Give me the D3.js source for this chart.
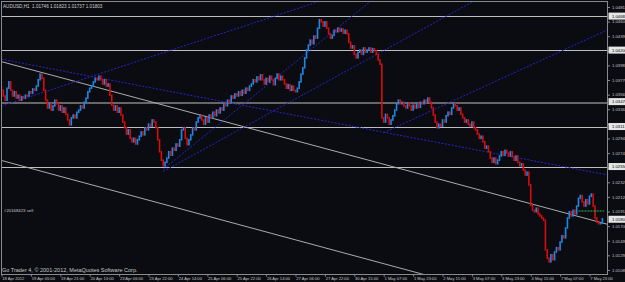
<!DOCTYPE html>
<html>
<head>
<meta charset="utf-8">
<script src="https://cdn.jsdelivr.net/npm/d3@7"></script>
<style>
  html, body { margin: 0; padding: 0; background: #0a0c11; overflow: hidden; }
</style>
</head>
<body>
<div id="chart"></div>
<script>
// ---- data ----
const symbol = "AUDUSD,H1";
const headerOHLC = [1.01746, 1.01823, 1.01737, 1.01803];
const copyright = "Go Trader 4, \u00a9 2001-2012, MetaQuotes Software Corp.";

// one label every 16 hourly bars
const dateLabels = ["18 Apr 2012", "19 Apr 05:00", "19 Apr 21:00", "20 Apr 13:00", "23 Apr 06:00",
  "23 Apr 22:00", "24 Apr 14:00", "25 Apr 06:00", "25 Apr 22:00", "26 Apr 14:00", "27 Apr 06:00",
  "27 Apr 22:00", "30 Apr 15:00", "1 May 07:00", "1 May 23:00", "2 May 15:00", "3 May 07:00",
  "3 May 23:00", "4 May 15:00", "7 May 07:00", "7 May 23:00"];
const barsPerLabel = 16;

const priceTicks = [1.04811, 1.04604, 1.04397, 1.04190, 1.03983, 1.03776, 1.03569, 1.03362,
  1.03155, 1.02948, 1.02741, 1.02534, 1.02327, 1.02120, 1.01913, 1.01706, 1.01499, 1.01292, 1.01085];

// horizontal lines (price levels)
const levels = [1.04682, 1.04200, 1.03470, 1.03117, 1.02550];
const supportLevel = 1.03470;

// hourly closes, open of each bar = previous close
const firstOpen = 1.0368;
const week1 = [1.0363, 1.0355, 1.0349, 1.0366, 1.0375, 1.0363, 1.0355, 1.0361, 1.0352, 1.0356, 1.0349, 1.0354,
  1.0352, 1.0356, 1.0355, 1.0361, 1.0359, 1.0365, 1.0363, 1.0369,
  1.0378, 1.0386, 1.0380,
  1.0363, 1.0349, 1.0338, 1.0344,
  1.0335, 1.0341, 1.0349, 1.0344, 1.0335, 1.0341, 1.0332, 1.0338, 1.0329,
  1.0321, 1.0314, 1.0324,
  1.0328, 1.0324, 1.0332, 1.0335, 1.0341, 1.0338, 1.0346, 1.0352,
  1.0361, 1.0366, 1.0369,
  1.0375, 1.0380, 1.0378, 1.0383,
  1.0378, 1.0372, 1.0378, 1.0369];
const week2 = [1.0372, 1.0356, 1.0342, 1.0335, 1.0341,
  1.0332, 1.0338, 1.0328,
  1.0318, 1.0310, 1.0301, 1.0307, 1.0295,
  1.0290, 1.0295, 1.0287, 1.0293, 1.0298,
  1.0304, 1.0300, 1.0310, 1.0307,
  1.0315, 1.0312, 1.0321, 1.0318, 1.0310,
  1.0293, 1.0276, 1.0264, 1.0256, 1.0261, 1.0267,
  1.0276, 1.0271, 1.0281, 1.0278, 1.0287, 1.0284, 1.0293,
  1.0307, 1.0310, 1.0295, 1.0286,
  1.0293, 1.0300, 1.0310, 1.0307, 1.0318, 1.0324, 1.0328,
  1.0321, 1.0315, 1.0324, 1.0318, 1.0328, 1.0324, 1.0332, 1.0327,
  1.0335, 1.0331, 1.0338, 1.0335, 1.0344, 1.0341, 1.0349, 1.0346, 1.0355,
  1.0352, 1.0358, 1.0355, 1.0361, 1.0356, 1.0363, 1.0359, 1.0366, 1.0363, 1.0369,
  1.0372, 1.0378, 1.0375, 1.0382, 1.0378, 1.0385,
  1.0378, 1.0372, 1.0380, 1.0375, 1.0383, 1.0378, 1.0371, 1.0380, 1.0386, 1.0378, 1.0383,
  1.0378, 1.0372, 1.0366, 1.0371, 1.0363, 1.0369, 1.0363, 1.0361, 1.0366,
  1.0375, 1.0386, 1.0395,
  1.0409, 1.0420, 1.0427,
  1.0434, 1.0429, 1.0440, 1.0437,
  1.0451, 1.0463, 1.0460,
  1.0454, 1.0460];
const week3 = [1.0451, 1.0443, 1.0437, 1.0441,
  1.0448, 1.0446, 1.0451, 1.0447, 1.0450, 1.0444, 1.0448, 1.0443,
  1.0431, 1.0423, 1.0426,
  1.0414, 1.0409, 1.0417,
  1.0420, 1.0414, 1.0423, 1.0417, 1.0420,
  1.0423, 1.0417, 1.0422, 1.0419, 1.0414,
  1.0406, 1.0400,
  1.0324,
  1.0318, 1.0329, 1.0324, 1.0315, 1.0321, 1.0327,
  1.0335, 1.0344, 1.0349, 1.0344, 1.0346,
  1.0341, 1.0338, 1.0345, 1.0341, 1.0335, 1.0342, 1.0338, 1.0344, 1.0339, 1.0346, 1.0344,
  1.0349, 1.0345, 1.0352, 1.0346,
  1.0338, 1.0328, 1.0318, 1.0310, 1.0315,
  1.0312, 1.0321, 1.0318, 1.0327, 1.0332, 1.0329, 1.0338, 1.0344,
  1.0341, 1.0335, 1.0338, 1.0329, 1.0324, 1.0318,
  1.0321, 1.0315, 1.0312, 1.0318, 1.0310, 1.0307,
  1.0301, 1.0295, 1.0298, 1.0290, 1.0281, 1.0284, 1.0276, 1.0267,
  1.0261, 1.0267, 1.0259, 1.0264, 1.0270,
  1.0276, 1.0271, 1.0278, 1.0274, 1.0270, 1.0276, 1.0269,
  1.0264, 1.0270, 1.0261, 1.0256, 1.0259,
  1.0250, 1.0243, 1.0247,
  1.0229, 1.0200, 1.0193,
  1.0191, 1.0196, 1.0188, 1.0185, 1.0182, 1.0179];
const week4 = [1.0137, 1.0125, 1.0120, 1.0130, 1.0123, 1.0134, 1.0140, 1.0137, 1.0148,
  1.0157, 1.0154, 1.0168, 1.0182, 1.0191, 1.0185, 1.0193, 1.0188, 1.0199, 1.0210, 1.0214,
  1.0205, 1.0199, 1.0208, 1.0202, 1.0213, 1.0216, 1.0199, 1.0182, 1.0176, 1.0174, 1.0175, 1.0181];

// trend lines: [bar, price] anchors, drawn as rays to the right
const whiteLines = [
  [[-2, 1.0405], [320, 1.0180]],
  [[-2, 1.0265], [200, 1.0123]]
];
const blueLines = [
  [[-2, 1.0408], [320, 1.0248]],
  [[-2, 1.0339], [160, 1.0478]],
  [[88, 1.0251], [160, 1.0403]],
  [[88, 1.0248], [200, 1.0408]],
  [[208, 1.0303], [300, 1.0413]]
];

// open sell order
const orderTicket = "#20168423 sell";
const orderPrice = 1.0192;
const orderBar = 314;

// ---- chart ----
const width = 625;
const height = 282;
const plotLeft = 1.5, plotRight = 607.5, plotTop = 1.5, plotBottom = 274.5;
const font = "'Liberation Sans', Arial, sans-serif";

const closes = [...week1, ...week2, ...week3, ...week4];
const bars = closes.map((c, i) => ({ i, open: i === 0 ? firstOpen : closes[i - 1], close: c }));

const x = d3.scaleLinear().domain([0, 320]).range([1.5, 589.5]);
const y = d3.scaleLinear().domain([1.010274, 1.0491]).range([274, 0]);

const svg = d3.select("#chart").append("svg")
  .attr("width", width)
  .attr("height", height)
  .style("display", "block")
  .style("background", "#0a0c11");

svg.append("clipPath").attr("id", "plot")
  .append("rect")
  .attr("x", plotLeft).attr("y", plotTop)
  .attr("width", plotRight - plotLeft).attr("height", plotBottom - plotTop);

const plot = svg.append("g").attr("clip-path", "url(#plot)");

// horizontal levels
plot.selectAll(".level").data(levels).enter().append("line")
  .attr("x1", plotLeft).attr("x2", plotRight)
  .attr("y1", d => Math.round(y(d)) + 0.5).attr("y2", d => Math.round(y(d)) + 0.5)
  .attr("stroke", d => d === supportLevel ? "#666" : "#bdbdbd")
  .attr("stroke-width", d => d === supportLevel ? 2 : 1)
  .attr("shape-rendering", "crispEdges");

// trend lines as rays
function rayPath(line) {
  const [a, b] = line;
  const x1 = x(a[0]), y1 = y(a[1]), x2 = x(b[0]), y2 = y(b[1]);
  const slope = (y2 - y1) / (x2 - x1);
  const xEnd = plotRight + 5;
  return `M${x1},${y1} L${xEnd},${y1 + slope * (xEnd - x1)}`;
}

plot.selectAll(".wline").data(whiteLines).enter().append("path")
  .attr("d", rayPath)
  .attr("fill", "none")
  .attr("stroke", "#ababab")
  .attr("stroke-width", 1);

plot.selectAll(".bline").data(blueLines).enter().append("path")
  .attr("d", rayPath)
  .attr("fill", "none")
  .attr("stroke", "#2626c8")
  .attr("stroke-width", 1)
  .attr("stroke-dasharray", "2,1.5");

// candles
plot.selectAll(".bar").data(bars).enter().append("rect")
  .attr("x", d => x(d.i) - 0.8)
  .attr("width", 1.6)
  .attr("y", d => y(Math.max(d.open, d.close)) - 0.8)
  .attr("height", d => Math.abs(y(d.open) - y(d.close)) + 1.6)
  .attr("fill", d => d.close >= d.open ? "#1e88e8" : "#d80c0c");

// order line
plot.append("line")
  .attr("x1", x(orderBar)).attr("x2", x(closes.length - 1) + 1.5)
  .attr("y1", y(orderPrice)).attr("y2", y(orderPrice))
  .attr("stroke", "#36c046")
  .attr("stroke-width", 1)
  .attr("stroke-dasharray", "2,1");

svg.append("text")
  .attr("x", 4).attr("y", y(orderPrice) + 1)
  .attr("fill", "#c8c8c8")
  .attr("font-family", font).attr("font-size", "4.3px")
  .text(orderTicket);

// frame
svg.append("rect")
  .attr("x", plotLeft).attr("y", plotTop)
  .attr("width", plotRight - plotLeft).attr("height", plotBottom - plotTop)
  .attr("fill", "none")
  .attr("stroke", "#8a8a8a")
  .attr("shape-rendering", "crispEdges");

// price axis
const yAxis = svg.append("g")
  .attr("transform", `translate(${plotRight},0)`)
  .call(d3.axisRight(y).tickValues(priceTicks).tickFormat(d3.format(".5f")).tickSize(2.5).tickPadding(2));
yAxis.select(".domain").remove();
yAxis.selectAll("line").attr("stroke", "#8a8a8a");
yAxis.selectAll("text").attr("fill", "#c8c8c8").attr("font-family", font).attr("font-size", "4.2px");

// highlighted price labels (levels + current close)
const tags = [...levels, headerOHLC[3]];
const tagG = svg.selectAll(".tag").data(tags).enter().append("g")
  .attr("transform", d => `translate(${plotRight + 1},${y(d)})`);
tagG.append("rect")
  .attr("x", 0).attr("y", -3.5).attr("width", 18).attr("height", 7)
  .attr("fill", "#e6e6e6");
tagG.append("text")
  .attr("x", 3.5).attr("y", 1.5)
  .attr("fill", "#000")
  .attr("font-family", font).attr("font-size", "4.2px")
  .text(d => d3.format(".5f")(d));

// time axis
const tickBars = dateLabels.map((d, i) => i * barsPerLabel);
const xAxis = svg.append("g")
  .attr("transform", `translate(0,${plotBottom})`)
  .call(d3.axisBottom(x).tickValues(tickBars).tickFormat((d, i) => dateLabels[i]).tickSize(2).tickPadding(0.5));
xAxis.select(".domain").remove();
xAxis.selectAll("line").attr("stroke", "#8a8a8a");
xAxis.selectAll("text")
  .attr("text-anchor", "start")
  .attr("dx", "0.3")
  .attr("fill", "#c8c8c8")
  .attr("font-family", font).attr("font-size", "4.1px");

// header and copyright
svg.append("text")
  .attr("x", 3).attr("y", 7.5)
  .attr("fill", "#d0d0d0")
  .attr("font-family", font).attr("font-size", "4.6px")
  .attr("xml:space", "preserve")
  .text(`${symbol}  ${headerOHLC.map(d3.format(".5f")).join(" ")}`);

svg.append("text")
  .attr("x", 2).attr("y", 272)
  .attr("fill", "#c8c8c8")
  .attr("font-family", font).attr("font-size", "5.5px")
  .text(copyright);
</script>
</body>
</html>
